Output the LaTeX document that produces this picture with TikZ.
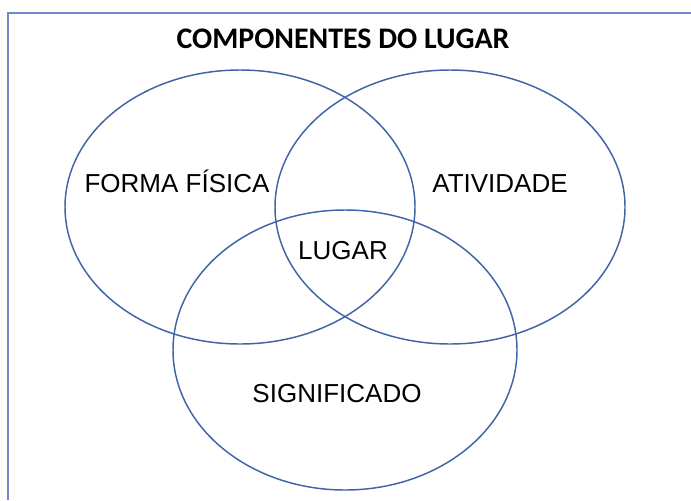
\documentclass[tikz,border=0pt]{standalone}
\usepackage{fontspec}
\setmainfont{Liberation Sans}
\newfontfamily\titlefont{Carlito}
\usepackage{tikz}
\definecolor{ringblue}{HTML}{4064A8}
\definecolor{frameblue}{HTML}{6E8CC8}
\tikzset{
	ring/.style={
		draw=ringblue,
		line width=1.1pt,
	},
	frame/.style={
		draw=frameblue,
		line width=1.6pt,
	},
	label/.style={
		inner sep=0,
		anchor=base,
		font=\fontsize{19.5}{22}\selectfont,
	}
}
\begin{document}
\begin{tikzpicture}[x=0.75pt,y=0.75pt]
	\useasboundingbox (0,0) rectangle (691,-500);
	
	\draw[frame] (8,-500) -- (8,-13) -- (691,-13);
	
	\draw[ring] (240,-207) ellipse [x radius=175, y radius=137];
	\draw[ring] (450,-207) ellipse [x radius=175, y radius=137];
	\draw[ring] (345,-350) ellipse [x radius=172, y radius=140];
	
	\node[inner sep=0,anchor=base,font=\titlefont\bfseries\fontsize{22.4}{26}\selectfont] (titulo) at (343,-48) {COMPONENTES DO LUGAR};
	\node[label] (forma) at (177,-192.5) {FORMA FÍSICA};
	\node[label] (atividade) at (500,-192.5) {ATIVIDADE};
	\node[label] (lugar) at (343,-259.5) {LUGAR};
	\node[label] (significado) at (337,-402.5) {SIGNIFICADO};
	
\end{tikzpicture}
\end{document}
